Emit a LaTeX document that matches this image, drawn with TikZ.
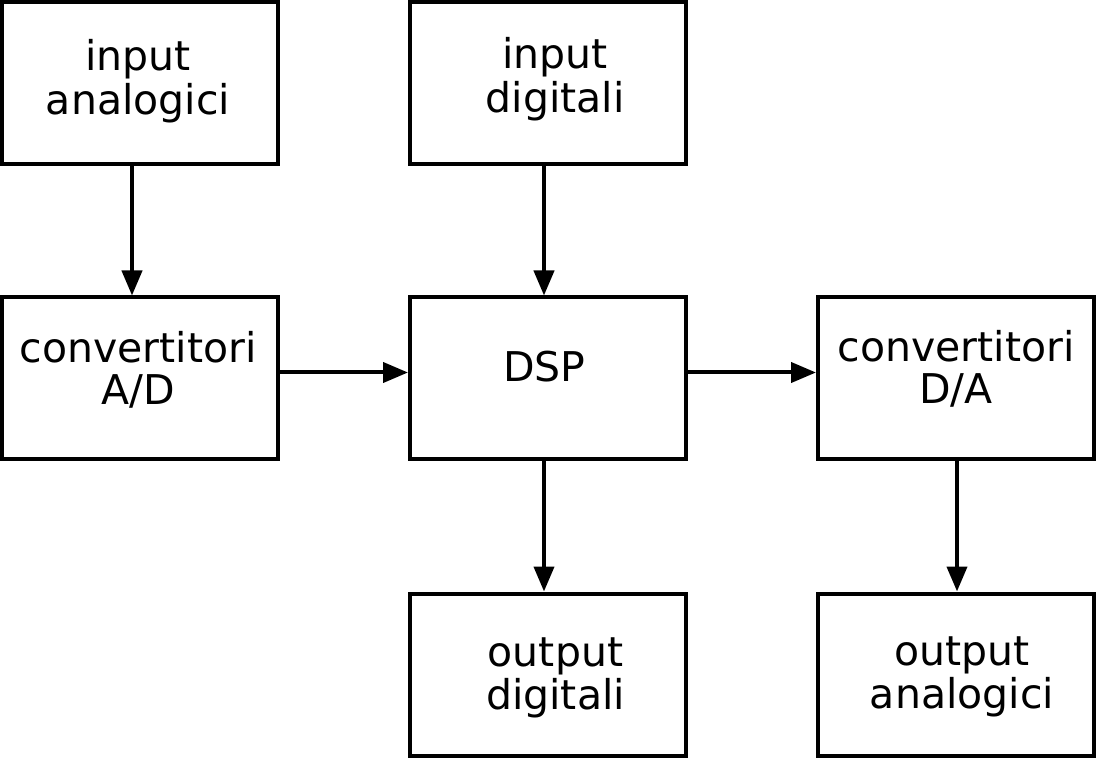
\documentclass[tikz,border=0pt]{standalone}
\usepackage{fontspec}
\setmainfont{DejaVu Sans}
\usepackage{tikz}
\usetikzlibrary{arrows.meta}
\tikzset{block/.style={draw, line width=2pt, minimum width=138pt, minimum height=81pt,
        font=\fontsize{20.5pt}{20pt}\selectfont},
    flow/.style={line width=2pt, -{Triangle[length=12.5pt, width=10pt]}}}
\newcommand{\blocktext}[3]{\raisebox{#2}[0pt][0pt]{\makebox[0pt]{\hspace*{#1}\hspace*{#1}%
    \begin{tabular}[t]{@{}c@{}}#3\end{tabular}}}}

\begin{document}
\begin{tikzpicture}[x=0.5pt, y=-0.5pt]
        \useasboundingbox (0,0) rectangle (1097,758);
        \node[block] (inA) at (140,83) {\blocktext{-1pt}{6pt}{input\\analogici}};
        \node[block] (inD) at (548,83) {\blocktext{3.5pt}{7pt}{input\\digitali}};
        \node[block] (AD) at (140,378.5) {\blocktext{-1pt}{7.75pt}{convertitori\\A/D}};
        \node[block] (DSP) at (548,378.5) {\blocktext{-1.75pt}{-1.75pt}{DSP}};
        \node[block] (DA) at (956,378.5) {\blocktext{0pt}{8.25pt}{convertitori\\D/A}};
        \node[block] (outD) at (548,674.5) {\blocktext{3.75pt}{4.25pt}{output\\digitali}};
        \node[block] (outA) at (956,674.5) {\blocktext{3pt}{4.75pt}{output\\analogici}};
        \draw[flow] ([xshift=-4pt]inA.south) -- ([xshift=-4pt]AD.north);
        \draw[flow] ([xshift=-2pt]inD.south) -- ([xshift=-2pt]DSP.north);
        \draw[flow] ([yshift=3pt]AD.east) -- ([yshift=3pt]DSP.west);
        \draw[flow] ([yshift=3pt]DSP.east) -- ([yshift=3pt]DA.west);
        \draw[flow] ([xshift=-2pt]DSP.south) -- ([xshift=-2pt]outD.north);
        \draw[flow] ([xshift=0.5pt]DA.south) -- ([xshift=0.5pt]outA.north);
\end{tikzpicture}
\end{document}
